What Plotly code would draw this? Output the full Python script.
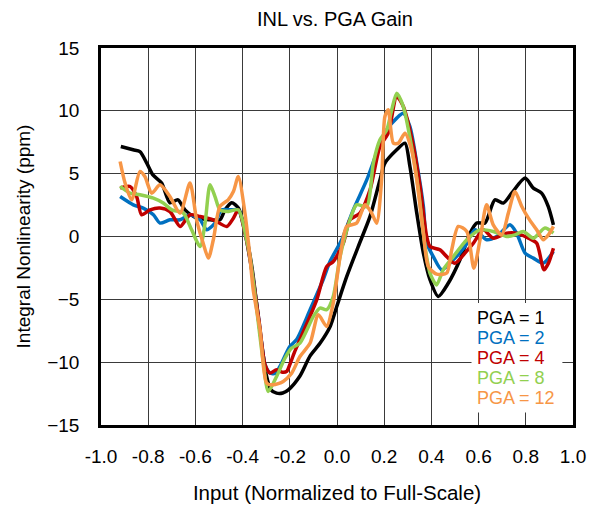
import plotly.graph_objects as go

# ---- data ----
x_pga1 = [-0.916, -0.864, -0.835, -0.806, -0.78, -0.743, -0.708, -0.674, -0.644, -0.595, -0.538, -0.496, -0.475,
          -0.446, -0.418, -0.39, -0.36, -0.33, -0.30, -0.28, -0.256, -0.23, -0.206, -0.157, -0.114, -0.072, -0.03,
          -0.001, 0.041, 0.09, 0.14, 0.182, 0.203, 0.253, 0.288, 0.309, 0.338, 0.366, 0.394, 0.429, 0.472, 0.521,
          0.564, 0.592, 0.627, 0.669, 0.705, 0.74, 0.797, 0.832, 0.867, 0.895, 0.917]
y_pga1 = [7.16, 6.9, 6.76, 5.84, 4.9, 4.25, 2.68, 2.92, 2.12, 1.46, 1.33, 1.33, 2.1,
          2.68, 2.26, 0.5, -2.5, -7.0, -11.0, -12.2, -12.46, -12.45, -12.2, -11.1, -9.5, -8.5, -7.2,
          -5.57, -3.2, -0.8, 1.6, 4.5, 5.84, 6.9, 7.43, 5.57, 1.86, -1.32, -3.44, -4.77, -3.7, -1.85,
          0.27, 1.07, 1.07, 2.92, 2.66, 3.45, 4.65, 3.85, 3.45, 2.39, 0.93]

x_pga2 = [-0.919, -0.863, -0.821, -0.778, -0.75, -0.708, -0.665, -0.623, -0.58, -0.552, -0.517, -0.489, -0.446,
          -0.418, -0.39, -0.36, -0.33, -0.305, -0.284, -0.262, -0.242, -0.2, -0.171, -0.114, -0.058, -0.03, 0.02,
          0.069, 0.126, 0.168, 0.211, 0.253, 0.281, 0.309, 0.338, 0.366, 0.38, 0.408, 0.444, 0.493, 0.542, 0.585,
          0.634, 0.677, 0.733, 0.761, 0.797, 0.832, 0.874, 0.917]
y_pga2 = [3.18, 2.52, 2.26, 1.73, 1.07, 1.33, 1.33, 1.73, 1.33, 0.53, 1.07, 2.12, 2.12,
          2.12, 0.3, -2.8, -6.8, -10.2, -10.87, -10.9, -10.34, -8.75, -8.2, -5.83, -3.4, -2.0, -0.26,
          2.12, 4.5, 6.63, 8.5, 9.42, 9.8, 8.75, 5.84, 2.39, -0.5, -1.6, -2.65, -1.85, -0.8, 0.53,
          -0.26, 0.0, 0.93, 0.27, -1.32, -1.72, -2.12, -1.19]

x_pga4 = [-0.919, -0.877, -0.849, -0.828, -0.792, -0.75, -0.708, -0.665, -0.623, -0.58, -0.524, -0.467, -0.439,
          -0.418, -0.39, -0.36, -0.33, -0.305, -0.284, -0.256, -0.232, -0.213, -0.2, -0.18, -0.157, -0.086, -0.044,
          -0.016, 0.027, 0.055, 0.097, 0.14, 0.182, 0.217, 0.253, 0.281, 0.324, 0.352, 0.38, 0.394, 0.436, 0.465,
          0.5, 0.542, 0.578, 0.62, 0.662, 0.719, 0.761, 0.811, 0.846, 0.877, 0.896, 0.917]
y_pga4 = [3.85, 3.98, 3.18, 1.73, 2.12, 2.26, 1.99, 0.8, 1.73, 1.59, 1.33, 0.8, 1.46,
          2.12, 0.3, -2.8, -6.8, -10.2, -10.87, -10.6, -10.8, -10.74, -10.2, -9.2, -8.2, -5.04, -2.4,
          -2.0, -0.53, 1.33, 1.86, 3.72, 7.16, 8.22, 11.14, 10.34, 7.16, 3.98, 0.0, -0.8, -1.06, -1.6,
          -2.12, -1.32, -0.53, 0.53, -0.13, 0.27, 0.27, -0.13, -0.53, -2.65, -2.12, -0.93]

x_pga8 = [-0.919, -0.877, -0.835, -0.778, -0.736, -0.7, -0.651, -0.616, -0.58, -0.559, -0.538, -0.517, -0.496,
          -0.461, -0.418, -0.383, -0.369, -0.34, -0.312, -0.291, -0.256, -0.22, -0.192, -0.157, -0.1, -0.072,
          -0.044, -0.016, 0.013, 0.055, 0.083, 0.126, 0.154, 0.182, 0.211, 0.232, 0.253, 0.281, 0.316, 0.345,
          0.373, 0.394, 0.422, 0.45, 0.493, 0.55, 0.606, 0.662, 0.719, 0.754, 0.789, 0.832, 0.881, 0.917]
y_pga8 = [3.98, 3.45, 3.32, 3.05, 2.66, 2.12, 1.86, 0.53, -0.8, 1.07, 4.11, 3.18, 2.12,
          1.99, 2.12, -0.26, -1.6, -5.83, -10.07, -12.33, -11.14, -9.67, -8.88, -8.48, -6.36, -5.7,
          -5.83, -4.77, -1.6, 1.33, 2.52, 2.39, 5.84, 7.7, 8.5, 10.08, 11.4, 10.34, 7.16, 3.72,
          -0.8, -2.91, -3.85, -2.65, -1.6, -0.26, 0.53, 0.4, 0.0, 0.13, 0.4, -0.13, 0.67, 0.27]

x_pga12 = [-0.919, -0.898, -0.87, -0.835, -0.814, -0.785, -0.75, -0.708, -0.665, -0.623, -0.595, -0.567, -0.545,
           -0.524, -0.496, -0.461, -0.439, -0.418, -0.39, -0.369, -0.355, -0.326, -0.298, -0.27, -0.228, -0.192,
           -0.157, -0.114, -0.079, -0.044, -0.016, 0.013, 0.041, 0.083, 0.119, 0.147, 0.168, 0.189, 0.203, 0.217,
           0.239, 0.26, 0.288, 0.316, 0.338, 0.366, 0.387, 0.422, 0.465, 0.486, 0.514, 0.55, 0.58, 0.606, 0.634,
           0.662, 0.698, 0.726, 0.754, 0.783, 0.811, 0.846, 0.874, 0.896, 0.917]
y_pga12 = [5.97, 4.25, 2.92, 5.17, 4.77, 3.45, 4.11, 3.18, 1.86, 4.25, 1.33, -0.53, -1.72,
           -0.26, 2.39, 2.92, 3.58, 4.77, 1.86, -1.6, -4.24, -7.42, -11.66, -11.8, -11.53, -10.87,
           -9.55, -8.48, -6.23, -7.16, -5.3, -1.6, 0.8, 1.06, 2.52, 1.86, 1.06, 4.5, 9.55, 10.08,
           7.43, 7.43, 8.22, 6.9, 4.51, 0.27, -2.39, -3.0, -2.91, -1.06, 0.8, 0.4, -2.52, -0.26, 2.52,
           0.93, 0.13, 1.86, 3.58, 2.39, 1.46, 0.53, -0.26, 0.13, 0.8]

series_names = ["PGA = 1", "PGA = 2", "PGA = 4", "PGA = 8", "PGA = 12"]
series_x = [x_pga1, x_pga2, x_pga4, x_pga8, x_pga12]
series_y = [y_pga1, y_pga2, y_pga4, y_pga8, y_pga12]
colors = ["#000000", "#0070C0", "#C00000", "#92D050", "#F79646"]

x_ticks = [-1.0, -0.8, -0.6, -0.4, -0.2, 0.0, 0.2, 0.4, 0.6, 0.8, 1.0]
x_ticktext = ["-1.0", "-0.8", "-0.6", "-0.4", "-0.2", "0.0", "0.2", "0.4", "0.6", "0.8", "1.0"]
y_ticks = [-15, -10, -5, 0, 5, 10, 15]

FONT = "Liberation Sans, Arial, sans-serif"

fig = go.Figure()
for name, xs, ys, c in zip(series_names, series_x, series_y, colors):
    fig.add_trace(go.Scatter(x=xs, y=ys, mode="lines", name=name,
                             line=dict(color=c, width=3.5, shape="spline", smoothing=0.7),
                             showlegend=False))

# legend box (white background) and coloured legend texts
fig.add_shape(type="rect", xref="x", yref="y", x0=0.57, x1=0.955, y0=-5.3, y1=-14.0,
              fillcolor="white", line=dict(width=0), layer="above")
legend_y = [-6.47, -8.06, -9.65, -11.24, -12.83]
for n, c, ly in zip(series_names, colors, legend_y):
    fig.add_annotation(x=0.59, y=ly, xref="x", yref="y", xanchor="left", yanchor="middle",
                       text=n, showarrow=False, align="left", borderpad=0,
                       font=dict(family=FONT, size=18, color=c))

axis_common = dict(showgrid=True, gridcolor="#3a3a3a", gridwidth=1.2, zeroline=False,
                   showline=True, linecolor="black", linewidth=2.5, mirror=True,
                   ticks="outside", tickcolor="rgba(0,0,0,0)",
                   tickfont=dict(family=FONT, size=19, color="black"))

fig.update_xaxes(range=[-1, 1], tickvals=x_ticks, ticktext=x_ticktext, ticklen=12,
                 title=dict(text="Input (Normalized to Full-Scale)", font=dict(family=FONT, size=20.5, color="black"),
                            standoff=21),
                 **axis_common)
fig.update_yaxes(range=[-15, 15], tickvals=y_ticks, ticklen=15,
                 title=dict(text="Integral Nonlinearity (ppm)", font=dict(family=FONT, size=19, color="black"),
                            standoff=12),
                 **axis_common)

fig.update_layout(
    width=589, height=503,
    margin=dict(l=93, r=24, t=40, b=86, autoexpand=False),
    plot_bgcolor="white", paper_bgcolor="white",
    title=dict(text="INL vs. PGA Gain", x=0.555, xanchor="center", y=0.978, yanchor="middle",
               font=dict(family=FONT, size=20, color="black")),
    font=dict(family=FONT, color="black"),
)

fig.write_html("out.html")
